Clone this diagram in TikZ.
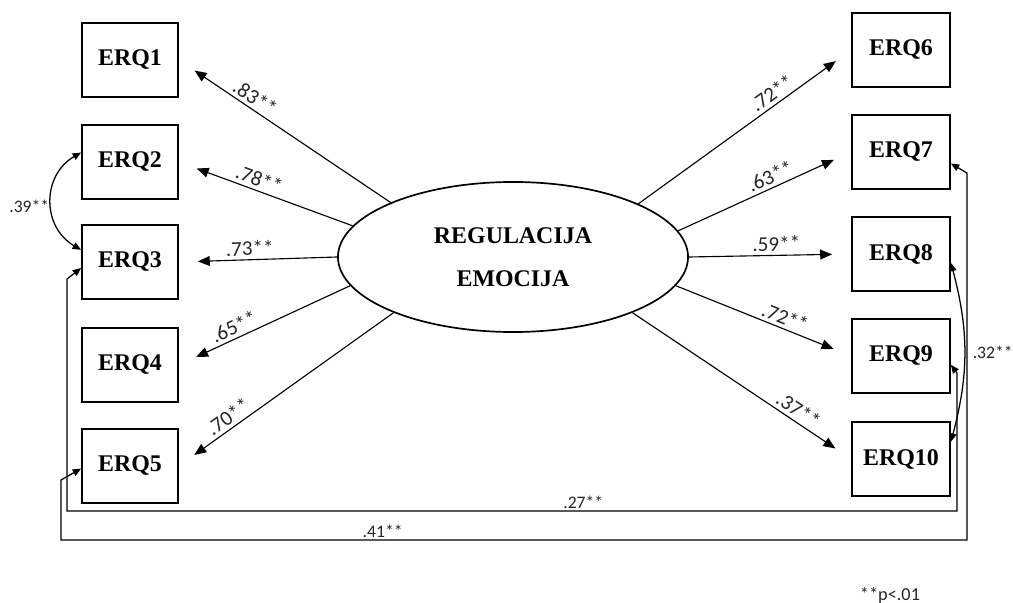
\documentclass[tikz,border=0pt]{standalone}
\usepackage{fontspec}
\setmainfont{Liberation Serif}
\newfontfamily\lblfont{Carlito}
\usetikzlibrary{arrows.meta,positioning,shapes.geometric}

\begin{document}
\begin{tikzpicture}[x=0.025cm, y=-0.025cm,
    box/.style={draw, line width=1.2pt, minimum width=2.4cm, minimum height=1.85cm, align=center, font=\fontsize{17}{20}\selectfont\bfseries},
    lat/.style={draw, ellipse, line width=1.2pt, minimum width=8.75cm, minimum height=3.75cm, inner sep=0pt, align=center, font=\fontsize{17}{31}\selectfont\bfseries},
    load/.style={-{Triangle[length=8.5pt,width=7pt]}, line width=0.8pt, shorten >=13.5pt},
    cov/.style={{Triangle[length=6pt,width=5pt]}-{Triangle[length=6pt,width=5pt]}, line width=0.9pt},
    lbl/.style={font=\lblfont\fontsize{15}{17}\selectfont, text=black!85, sloped, above, inner sep=2.5pt},
    small/.style={font=\lblfont\fontsize{12.5}{14}\selectfont, text=black!85, inner sep=1.5pt}
]
    \useasboundingbox (0,0) rectangle (1013,603);

    % Latent factor
    \node[lat] (reg) at (513,257) {REGULACIJA\\EMOCIJA};

    % Indicators - left column
    \node[box] (erq1) at (130,60) {ERQ1};
    \node[box] (erq2) at (130,162) {ERQ2};
    \node[box] (erq3) at (130,262) {ERQ3};
    \node[box] (erq4) at (130,365) {ERQ4};
    \node[box] (erq5) at (130,466) {ERQ5};

    % Indicators - right column
    \node[box, minimum width=2.45cm] (erq6) at (901,50) {ERQ6};
    \node[box, minimum width=2.45cm] (erq7) at (901,152) {ERQ7};
    \node[box, minimum width=2.45cm] (erq8) at (901,254) {ERQ8};
    \node[box, minimum width=2.45cm] (erq9) at (901,356) {ERQ9};
    \node[box, minimum width=2.45cm] (erq10) at (901,459) {ERQ10};

    % Loadings
    \draw[load] (reg.156) -- node[lbl, pos=0.67] {.83**} (erq1.east);
    \draw[load] (reg.169.5) -- node[lbl, pos=0.56] {.78**} (erq2.east);
    \draw[load] (reg.180) -- node[lbl, pos=0.55] {.73**} (erq3.east);
    \draw[load] (reg.190) -- node[lbl, pos=0.65] {.65**} (erq4.east);
    \draw[load] (reg.205) -- node[lbl, pos=0.74] {.70**} (erq5.east);
    \draw[load] (reg.23.5) -- node[lbl, pos=0.66] {.72**} (erq6.west);
    \draw[load] (reg.9.5) -- node[lbl, pos=0.56] {.63**} (erq7.west);
    \draw[load] (reg.0) -- node[lbl, pos=0.54] {.59**} (erq8.west);
    \draw[load] (reg.350) -- node[lbl, pos=0.6] {.72**} (erq9.west);
    \draw[load] (reg.335.5) -- node[lbl, pos=0.73] {.37**} (erq10.west);

    % Error covariances
    \draw[cov] (erq2.169) to[bend right=60, looseness=1.2] node[small, left, pos=0.55] {.39**} (erq3.166);
    \draw[cov] (erq8.-10) to[bend left=15] node[small, right, pos=0.5, xshift=4pt] {.32**} (erq10.19);
    \draw[cov] (erq3.187) -- (67,279) -- (67,511) -- node[small, above, pos=0.58] {.27**} (957,511) -- (957,373) -- (erq9.-10);
    \draw[cov] (erq5.183) -- (61,480) -- (61,540) -- node[small, above, pos=0.355] {.41**} (967,540) -- (967,173) -- (erq7.-13);

    % Note
    \node[small, font=\lblfont\fontsize{13}{15}\selectfont] (note) at (890,595) {**p<.01};
\end{tikzpicture}
\end{document}
